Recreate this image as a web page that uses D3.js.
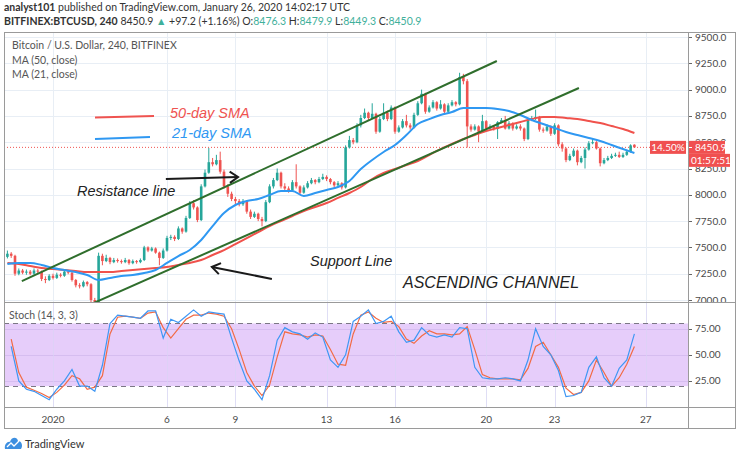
<!DOCTYPE html>
<html><head><meta charset="utf-8">
<script src="https://cdn.jsdelivr.net/npm/d3@7"></script>
<style>
body{margin:0;background:#fff;}
svg{display:block;}
</style></head><body>
<svg id="c" width="740" height="457"></svg>
<script>
// ---------- DATA (240-minute candles, index 0 = Dec 30 00:00) ----------
const opens=[7410,7440,7420,7250,7280,7260,
7270,7250,7280,7270,7200,7190,
7230,7210,7240,7230,7270,7260,
7190,7140,7130,7170,7150,7000,
6980,7420,7370,7400,7360,7380,
7370,7360,7380,7350,7370,7360,
7380,7500,7470,7490,7450,7400,
7470,7590,7600,7580,7680,7650,
7780,7920,7880,7760,8080,8210,
8310,8290,8330,8220,8080,8010,
7960,7940,7910,7940,7840,7790,
7820,7770,7750,7930,8080,8140,
8210,8080,8060,8040,8120,8080,
8020,8070,8110,8140,8120,8150,
8170,8150,8120,8090,8110,8070,
8450,8520,8500,8660,8730,8780,
8730,8770,8600,8720,8780,8720,
8830,8600,8640,8700,8660,8640,
8760,8870,8960,8790,8830,8880,
8820,8860,8790,8850,8880,8860,
9120,9080,8650,8620,8650,8600,
8700,8630,8650,8630,8690,8710,
8630,8680,8630,8650,8630,8530,
8710,8730,8740,8620,8610,8650,
8580,8660,8480,8440,8330,8370,
8420,8310,8350,8430,8490,8500,
8440,8300,8330,8350,8370,8380,
8360,8380,8410,8476.3];
const highs=[7470,7455,7430,7300,7295,7290,
7285,7300,7295,7280,7225,7245,
7250,7260,7255,7290,7285,7270,
7200,7160,7185,7180,7160,7020,
7450,7440,7430,7410,7400,7395,
7385,7400,7390,7385,7380,7395,
7515,7510,7505,7500,7460,7490,
7610,7620,7615,7700,7690,7800,
7940,7950,7890,8100,8240,8445,
8350,8380,8410,8240,8100,8030,
7980,7960,7960,7950,7860,7840,
7830,7790,7950,8100,8160,8250,
8220,8110,8080,8140,8290,8090,
8090,8130,8160,8150,8170,8200,
8185,8160,8130,8130,8120,8470,
8560,8540,8680,8760,8820,8790,
8870,8780,8740,8870,8800,8850,
8840,8660,8720,8760,8680,8780,
8890,9000,8970,8850,8900,8890,
8900,8870,8870,8900,8890,9160,
9150,9100,8670,8670,8660,8760,
8710,8670,8660,8700,8730,8750,
8700,8690,8670,8670,8640,8730,
8750,8810,8750,8640,8670,8660,
8680,8670,8500,8450,8390,8440,
8430,8370,8450,8510,8530,8510,
8450,8350,8370,8390,8400,8410,
8400,8430,8480,8479.9];
const lows=[7395,7400,7230,7235,7245,7240,
7235,7240,7250,7180,7160,7180,
7195,7200,7215,7220,7245,7175,
7120,7110,7120,7130,6980,6880,
6960,7330,7360,7340,7350,7355,
7345,7350,7335,7340,7345,7350,
7370,7455,7460,7440,7330,7390,
7460,7570,7560,7570,7630,7640,
7770,7860,7740,7750,8070,8200,
8270,8280,8200,8060,7980,7940,
7910,7890,7895,7820,7770,7780,
7750,7700,7740,7920,8060,8130,
8060,8040,8020,8030,8060,8000,
8010,8060,8100,8100,8110,8140,
8130,8100,8070,8080,8050,8060,
8440,8480,8490,8640,8720,8710,
8720,8580,8590,8710,8700,8710,
8580,8590,8630,8640,8620,8630,
8750,8860,8770,8780,8820,8800,
8810,8770,8780,8840,8840,8850,
9050,8450,8600,8610,8500,8590,
8610,8620,8610,8530,8680,8620,
8620,8610,8620,8610,8510,8520,
8700,8710,8600,8590,8600,8560,
8570,8460,8410,8310,8320,8360,
8280,8300,8250,8420,8480,8430,
8270,8290,8320,8340,8360,8350,
8350,8370,8400,8449.3];
const closes=[7440,7420,7250,7280,7260,7270,
7250,7280,7270,7200,7190,7230,
7210,7240,7230,7270,7260,7190,
7140,7130,7170,7150,7000,6980,
7420,7370,7400,7360,7380,7370,
7360,7380,7350,7370,7360,7380,
7500,7470,7490,7450,7400,7470,
7590,7600,7580,7680,7650,7780,
7920,7880,7760,8080,8210,8310,
8290,8330,8220,8080,8010,7960,
7940,7910,7940,7840,7790,7820,
7770,7750,7930,8080,8140,8210,
8080,8060,8040,8120,8080,8020,
8070,8110,8140,8120,8150,8170,
8150,8120,8090,8110,8070,8450,
8520,8500,8660,8730,8780,8730,
8770,8600,8720,8780,8720,8830,
8600,8640,8700,8660,8640,8760,
8870,8960,8790,8830,8880,8820,
8860,8790,8850,8880,8860,9120,
9080,8650,8620,8650,8600,8700,
8630,8650,8630,8690,8710,8630,
8680,8630,8650,8630,8530,8710,
8730,8740,8620,8610,8650,8580,
8660,8480,8440,8330,8370,8420,
8310,8350,8430,8490,8500,8440,
8300,8330,8350,8370,8380,8360,
8380,8410,8470,8450.9];

// moving averages, one reading every 3 candles (index 0,3,...,165)
const ma50=[7352,7342,7323,7304,7295,7285,7276,7266,7266,7266,7276,7285,7295,7304,7314,7333,7352,7380,7428,7475,7532,7589,7646,7703,7751,7798,7846,7884,7922,7970,8017,8074,8150,8207,8245,8283,8321,8378,8435,8483,8530,8568,8606,8635,8663,8692,8720,8740,8740,8730,8720,8701,8682,8654,8625,8587];
const ma21=[7342,7352,7352,7333,7304,7285,7266,7238,7190,7209,7228,7238,7257,7285,7352,7418,7475,7570,7703,7827,7903,7941,7960,7998,8036,8036,7989,8017,8046,8074,8131,8245,8331,8407,8473,8568,8673,8720,8759,8787,8825,8825,8825,8816,8797,8759,8711,8673,8635,8597,8568,8540,8511,8473,8435,8397];

// Stochastic (14,3,3), one reading every 2 candles (index 1,3,...,165)
const stochK=[58,25,17,15,11,7,17,25,36,20,20,15,40,80,88,87,86,85,92,92,66,84,81,87,93,87,91,90,89,66,44,25,17,7,30,64,76,72,70,65,71,67,45,38,50,82,87,93,80,82,87,72,62,64,76,69,67,69,67,76,75,38,28,27,27,28,27,25,45,75,58,50,35,10,11,14,38,48,28,20,37,45,70];
const stochD=[65,33,19,16,13,9,14,21,30,27,17,19,30,70,86,87,86,85,90,91,76,66,75,84,88,88,90,89,87,75,55,33,20,11,21,48,72,70,69,67,69,68,55,41,40,70,88,91,85,81,82,77,65,61,68,73,70,70,69,70,77,55,31,28,27,27,27,26,37,58,62,50,38,18,12,14,25,45,33,20,28,41,58];

const dayTickIdx=[12,42,60,84,102,126,144,168];
const dayTickLabels=["2020","6","9","13","16","20","23","27"];
const priceTicks=[7000,7250,7500,7750,8000,8250,8500,8750,9000,9250,9500];
const stochTicks=[25,50,75];
const stochBand=[20,80];
const lastPrice=8450.9;
const lastPctLabel="14.50%";
const countdown="01:57:51";

// trend lines drawn by the author: [candle index, price]
const upperChannel=[[3.8,7180],[128.8,9272]];
const lowerChannel=[[22,6960],[150.4,9015]];
const resistArrow=[[41.7,8150],[60.7,8169]];
const supportArrow=[[69.6,7200],[53.8,7314]];

// ---------- LAYOUT ----------
const FONT='Lato, "Open Sans", sans-serif';
const AFONT='"Liberation Sans", Arial, sans-serif';
const L=4, R=688, FR=736, T=32, MB=302, SB=407, B=428;
const GREEN="#26a69a", RED="#ef5350";

const svg=d3.select("#c");
const x=d3.scaleLinear().domain([12,168]).range([53,645.8]);
const y=d3.scaleLinear().domain([7000,9500]).range([300,37]);
const ys=d3.scaleLinear().domain([0,100]).range([407,302.6]);
const yl=y(lastPrice);

const defs=svg.append("defs");
defs.append("clipPath").attr("id","cm").append("rect").attr("x",L+0.5).attr("y",T+0.5).attr("width",R-L-0.5).attr("height",MB-T-0.5);
defs.append("clipPath").attr("id","cs").append("rect").attr("x",L+0.5).attr("y",MB+1).attr("width",R-L-0.5).attr("height",SB-MB-1);
// price-axis area, minus the last-price label boxes
defs.append("clipPath").attr("id","ca").append("path").attr("clip-rule","evenodd")
  .attr("d",`M${R},${T+0.5}H${FR}V${MB}H${R}Z M${R},${yl-6.5}H${FR}V${yl+19.5}H${R}Z`);

// ---------- HEADER ----------
const h1=svg.append("text").attr("x",4).attr("y",11).attr("font-family",FONT).attr("font-size",10.5).attr("fill","#333");
h1.append("tspan").attr("font-weight","bold").text("analyst101");
h1.append("tspan").text(" published on TradingView.com, January 26, 2020 14:02:17 UTC");
const TEAL="#3fb09b";
const h2=svg.append("text").attr("x",4).attr("y",24.5).attr("font-family",FONT).attr("font-size",10.5).attr("fill","#333");
h2.append("tspan").attr("font-weight","bold").text("BITFINEX:BTCUSD, 240");
h2.append("tspan").text(" 8450.9 ");
h2.append("tspan").attr("fill",TEAL).text("▲");
h2.append("tspan").text(" +97.2 (+1.16%) O:");
h2.append("tspan").attr("fill",TEAL).text("8476.3");
h2.append("tspan").text(" H:");
h2.append("tspan").attr("fill",TEAL).text("8479.9");
h2.append("tspan").text(" L:");
h2.append("tspan").attr("fill",TEAL).text("8449.3");
h2.append("tspan").text(" C:");
h2.append("tspan").attr("fill",TEAL).text("8450.9");

// ---------- GRID ----------
const grid=svg.append("g").attr("stroke","#e8eef5").attr("stroke-width",1);
dayTickIdx.forEach(i=>{
  const xx=Math.round(x(i))+0.5;
  grid.append("line").attr("x1",xx).attr("x2",xx).attr("y1",T).attr("y2",SB);
});
priceTicks.forEach(p=>{
  const yy=Math.round(y(p))+0.5;
  if(yy>T+1 && yy<MB-1) grid.append("line").attr("x1",L).attr("x2",R).attr("y1",yy).attr("y2",yy);
});

// ---------- STOCH PANE ----------
const sg=svg.append("g").attr("clip-path","url(#cs)");
sg.append("rect").attr("x",L).attr("width",R-L).attr("y",ys(stochBand[1])).attr("height",ys(stochBand[0])-ys(stochBand[1])).attr("fill","#e6cdfa");
stochTicks.forEach(v=>{
  sg.append("line").attr("x1",L).attr("x2",R).attr("y1",Math.round(ys(v))+0.5).attr("y2",Math.round(ys(v))+0.5).attr("stroke","#d6bdf0").attr("stroke-width",1);
});
dayTickIdx.forEach(i=>{
  const xx=Math.round(x(i))+0.5;
  sg.append("line").attr("x1",xx).attr("x2",xx).attr("y1",MB).attr("y2",SB).attr("stroke","#d9d3f5").attr("stroke-opacity",0.6);
});
stochBand.forEach(v=>{
  sg.append("line").attr("x1",L).attr("x2",R).attr("y1",Math.round(ys(v))+0.5).attr("y2",Math.round(ys(v))+0.5)
    .attr("stroke","#7b7785").attr("stroke-width",1.2).attr("stroke-dasharray","5,4");
});
const sline=d3.line().x((d,k)=>x(2*k+1)).y(d=>ys(d));
sg.append("path").attr("d",sline(stochD)).attr("fill","none").attr("stroke","#f26b45").attr("stroke-width",1.2);
sg.append("path").attr("d",sline(stochK)).attr("fill","none").attr("stroke","#3f97f4").attr("stroke-width",1.2);
svg.append("text").attr("x",9).attr("y",319).attr("font-family",FONT).attr("font-size",10.5).attr("fill","#555").text("Stoch (14, 3, 3)");

// ---------- MAIN PANE ----------
const mg=svg.append("g").attr("clip-path","url(#cm)");
mg.append("line").attr("x1",L).attr("x2",650).attr("y1",yl).attr("y2",yl)
  .attr("stroke",RED).attr("stroke-width",1).attr("stroke-dasharray","1,2");
const bw=2.6;
const cg=mg.append("g");
closes.forEach((c,i)=>{
  const o=opens[i], col=c>=o?GREEN:RED, xx=x(i);
  cg.append("line").attr("x1",xx).attr("x2",xx).attr("y1",y(highs[i])).attr("y2",y(lows[i])).attr("stroke",col).attr("stroke-width",1);
  const top=y(Math.max(o,c)), bot=y(Math.min(o,c));
  cg.append("rect").attr("x",xx-bw/2).attr("width",bw).attr("y",top).attr("height",Math.max(1,bot-top)).attr("fill",col);
});
const maLine=d3.line().x((d,k)=>x(3*k)).y(d=>y(d)).curve(d3.curveMonotoneX);
mg.append("path").attr("d",maLine(ma50)).attr("fill","none").attr("stroke","#f0524c").attr("stroke-width",2);
mg.append("path").attr("d",maLine(ma21)).attr("fill","none").attr("stroke","#2f98f2").attr("stroke-width",2);
const tl=d3.line().x(d=>x(d[0])).y(d=>y(d[1]));
[upperChannel,lowerChannel].forEach(ch=>{
  mg.append("path").attr("d",tl(ch)).attr("fill","none").attr("stroke","#2f6e2c").attr("stroke-width",2);
});

// ---------- ANNOTATIONS ----------
const an=svg.append("g");
an.append("line").attr("x1",95).attr("y1",117.5).attr("x2",154).attr("y2",116).attr("stroke","#ef5350").attr("stroke-width",2);
an.append("line").attr("x1",95).attr("y1",139).attr("x2",150).attr("y2",137).attr("stroke","#2f98f2").attr("stroke-width",2);
an.append("text").attr("x",170).attr("y",118).attr("font-family",AFONT).attr("font-style","italic").attr("font-size",14.5).attr("fill","#ef5350").text("50-day SMA");
an.append("text").attr("x",172).attr("y",138).attr("font-family",AFONT).attr("font-style","italic").attr("font-size",14.5).attr("fill","#2f98f2").text("21-day SMA");
an.append("text").attr("x",77).attr("y",196).attr("font-family",AFONT).attr("font-style","italic").attr("font-size",14.5).attr("fill","#222").text("Resistance line");
an.append("text").attr("x",310).attr("y",266).attr("font-family",AFONT).attr("font-style","italic").attr("font-size",14.5).attr("fill","#222").text("Support Line");
an.append("text").attr("x",403).attr("y",288).attr("font-family",AFONT).attr("font-style","italic").attr("font-size",16).attr("fill","#222").text("ASCENDING CHANNEL");
function arrow(seg){
  const [a,b]=seg, x1=x(a[0]), y1=y(a[1]), x2=x(b[0]), y2=y(b[1]);
  const ang=Math.atan2(y2-y1,x2-x1), hl=10, ha=0.6;
  an.append("line").attr("x1",x1).attr("y1",y1).attr("x2",x2).attr("y2",y2).attr("stroke","#1a1a1a").attr("stroke-width",2);
  an.append("path").attr("d",`M${x2-hl*Math.cos(ang-ha)},${y2-hl*Math.sin(ang-ha)}L${x2},${y2}L${x2-hl*Math.cos(ang+ha)},${y2-hl*Math.sin(ang+ha)}`)
    .attr("fill","none").attr("stroke","#1a1a1a").attr("stroke-width",2);
}
arrow(resistArrow);
arrow(supportArrow);

const lg=svg.append("g").attr("font-family",FONT).attr("font-size",10.5).attr("fill","#555");
lg.append("text").attr("x",12).attr("y",49).text("Bitcoin / U.S. Dollar, 240, BITFINEX");
lg.append("text").attr("x",12).attr("y",64).text("MA (50, close)");
lg.append("text").attr("x",12).attr("y",78).text("MA (21, close)");

// ---------- AXES ----------
const ax=svg.append("g").attr("font-family",FONT).attr("font-size",10).attr("fill","#4a4a4a");
const pa=ax.append("g").attr("clip-path","url(#ca)");
priceTicks.forEach(p=>{
  pa.append("line").attr("x1",R).attr("x2",R+4).attr("y1",Math.round(y(p))+0.5).attr("y2",Math.round(y(p))+0.5).attr("stroke","#666");
  pa.append("text").attr("x",695).attr("y",y(p)).attr("dy","0.35em").text(d3.format(".1f")(p));
});
stochTicks.forEach(v=>{
  ax.append("line").attr("x1",R).attr("x2",R+4).attr("y1",Math.round(ys(v))+0.5).attr("y2",Math.round(ys(v))+0.5).attr("stroke","#666");
  ax.append("text").attr("x",695).attr("y",ys(v)).attr("dy","0.35em").text(d3.format(".2f")(v));
});
dayTickIdx.forEach((i,k)=>{
  ax.append("text").attr("x",x(i)).attr("y",423).attr("text-anchor","middle").text(dayTickLabels[k]);
});

// last price labels
const lb=svg.append("g").attr("font-family",FONT).attr("font-size",10).attr("fill","#fff");
lb.append("rect").attr("x",650).attr("y",yl-6.5).attr("width",36).attr("height",13).attr("fill","#f05050");
lb.append("text").attr("x",668).attr("y",yl).attr("dy","0.35em").attr("text-anchor","middle").text(lastPctLabel);
lb.append("rect").attr("x",688).attr("y",yl-6.5).attr("width",37).attr("height",13).attr("fill","#f05050");
lb.append("line").attr("x1",688).attr("x2",692).attr("y1",Math.round(yl)+0.5).attr("y2",Math.round(yl)+0.5).attr("stroke","#fff");
lb.append("text").attr("x",695).attr("y",yl).attr("dy","0.35em").text(d3.format(".1f")(lastPrice));
lb.append("rect").attr("x",688).attr("y",yl+6.5).attr("width",42).attr("height",13).attr("fill","#f05050");
lb.append("text").attr("x",691).attr("y",yl+13).attr("dy","0.35em").text(countdown);

// ---------- FRAME ----------
const fr=svg.append("g").attr("stroke","#9a9a9a").attr("fill","none").attr("stroke-width",1);
fr.append("rect").attr("x",L+0.5).attr("y",T+0.5).attr("width",FR-L-1).attr("height",B-T);
fr.append("line").attr("x1",R+0.5).attr("x2",R+0.5).attr("y1",T).attr("y2",B);
fr.append("line").attr("x1",L).attr("x2",FR).attr("y1",MB+0.5).attr("y2",MB+0.5);
fr.append("line").attr("x1",L).attr("x2",FR).attr("y1",SB+0.5).attr("y2",SB+0.5);

// ---------- LOGO ----------
const lo=svg.append("g");
lo.append("path").attr("d","M5,449 C4,444 8,441 10,442 C11,437 17,436 18,441 C22,441 23,446 21,449 Z").attr("fill","#3d8fe0");
lo.append("path").attr("d","M7,447 L11,443 L14,446 L19,441").attr("fill","none").attr("stroke","#fff").attr("stroke-width",1.3);
lo.append("text").attr("x",25).attr("y",448).attr("font-family",FONT).attr("font-size",11).attr("fill","#333").text("TradingView");
</script>
</body></html>
